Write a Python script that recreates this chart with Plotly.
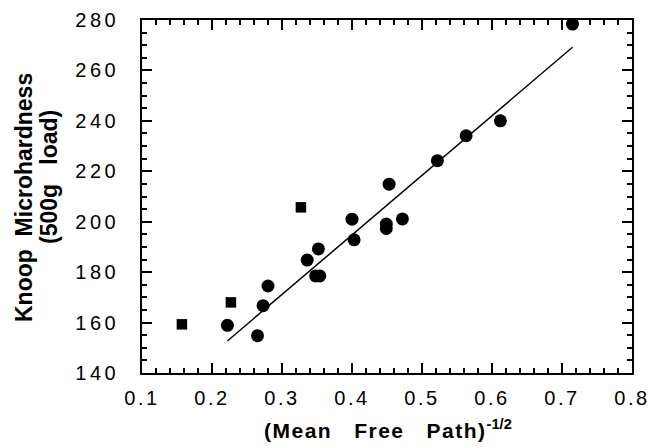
import plotly.graph_objects as go

# Data
circle_x = [0.222, 0.265, 0.273, 0.280, 0.336, 0.352, 0.348, 0.354, 0.400, 0.403,
            0.453, 0.449, 0.449, 0.472, 0.522, 0.563, 0.612, 0.715]
circle_y = [158.9, 154.8, 166.7, 174.5, 184.8, 189.2, 178.5, 178.5, 201.0, 192.8,
            214.9, 199.1, 197.3, 201.1, 224.2, 234.1, 240.0, 278.4]
square_x = [0.157, 0.227, 0.327]
square_y = [159.3, 168.0, 205.7]
fit_x = [0.222, 0.715]
fit_y = [152.7, 269.2]

x_ticks = [0.1, 0.2, 0.3, 0.4, 0.5, 0.6, 0.7, 0.8]
y_ticks = [140, 160, 180, 200, 220, 240, 260, 280]
x_tick_labels = ["0.1", "0.2", "0.3", "0.4", "0.5", "0.6", "0.7", "0.8"]
y_tick_labels = ["140", "160", "180", "200", "220", "240", "260", "280"]
x_minor_step = 0.02
y_minor_step = 5

x_title = "(Mean\u00a0\u00a0\u00a0Free\u00a0\u00a0\u00a0Path)"
x_title_sup = "-1/2"
y_title_1 = "Knoop\u00a0\u00a0Microhardness"
y_title_2 = "(500g\u00a0\u00a0\u00a0load)"

FONT = "Liberation Sans, Arial, Helvetica, sans-serif"
X_RANGE = [x_ticks[0], x_ticks[-1]]
Y_RANGE = [y_ticks[0], y_ticks[-1]]


def spaced(t, px):
    return f'<span style="letter-spacing:{px}px">{t}</span>'


fig = go.Figure()
fig.add_trace(go.Scatter(x=fit_x, y=fit_y, mode="lines",
                         line=dict(color="black", width=1.5), showlegend=False))
fig.add_trace(go.Scatter(x=circle_x, y=circle_y, mode="markers",
                         marker=dict(symbol="circle", size=13, color="black"), showlegend=False))
fig.add_trace(go.Scatter(x=square_x, y=square_y, mode="markers",
                         marker=dict(symbol="square", size=10.5, color="black"), showlegend=False))
# invisible trace on the overlay axes that carry the minor ticks
fig.add_trace(go.Scatter(x=fit_x, y=fit_y, xaxis="x2", yaxis="y2", mode="lines",
                         line=dict(color="rgba(0,0,0,0)", width=0), hoverinfo="skip",
                         showlegend=False))

axis_common = dict(
    showline=True, linecolor="black", linewidth=1.6, mirror="ticks",
    ticks="inside", ticklen=10, tickwidth=2, tickcolor="black",
    showgrid=False, zeroline=False, automargin=False, layer="above traces",
    tickfont=dict(family=FONT, size=20, color="black"),
)
minor_common = dict(
    ticks="inside", ticklen=5, tickwidth=1.5, tickcolor="black",
    mirror="ticks", showline=False, showgrid=False, zeroline=False,
    showticklabels=False, automargin=False, layer="above traces",
)

fig.update_layout(
    xaxis=dict(range=X_RANGE, tickmode="array", tickvals=x_ticks,
               ticktext=[spaced(t, 2.5) for t in x_tick_labels],
               ticklabelstandoff=6, **axis_common),
    yaxis=dict(range=Y_RANGE, tickmode="array", tickvals=y_ticks,
               ticktext=[spaced(t, 3.5) for t in y_tick_labels],
               ticklabelstandoff=17, **axis_common),
    xaxis2=dict(overlaying="x", anchor="y2", side="bottom", range=X_RANGE,
                tickmode="linear", tick0=X_RANGE[0], dtick=x_minor_step, **minor_common),
    yaxis2=dict(overlaying="y", anchor="x2", side="left", range=Y_RANGE,
                tickmode="linear", tick0=Y_RANGE[0], dtick=y_minor_step, **minor_common),
)

# Axis titles placed as annotations for exact positioning
fig.add_annotation(xref="paper", yref="paper", x=0.503, y=-0.1586,
                   xanchor="center", yanchor="middle", showarrow=False,
                   text=f'<b>{spaced(x_title, 1.5)}<sup>{x_title_sup}</sup></b>',
                   font=dict(family=FONT, size=21, color="black"))
fig.add_annotation(xref="paper", yref="paper", x=-0.2408, y=0.4958,
                   xanchor="center", yanchor="middle", showarrow=False, textangle=-90,
                   text=f"<b>{y_title_1}</b>",
                   font=dict(family=FONT, size=23, color="black"))
fig.add_annotation(xref="paper", yref="paper", x=-0.1898, y=0.5552,
                   xanchor="center", yanchor="middle", showarrow=False, textangle=-90,
                   text=f"<b>{y_title_2}</b>",
                   font=dict(family=FONT, size=23, color="black"))

fig.update_layout(
    width=650, height=448,
    margin=dict(l=142, r=18, t=20, b=75),
    plot_bgcolor="rgba(0,0,0,0)", paper_bgcolor="white",
    font=dict(family=FONT, color="black"),
)

# remove the default 8px page margin so the figure fills the window exactly
fig.write_html("out.html", config={"displayModeBar": False},
               post_script="document.body.style.margin='0';document.body.style.overflow='hidden';")
